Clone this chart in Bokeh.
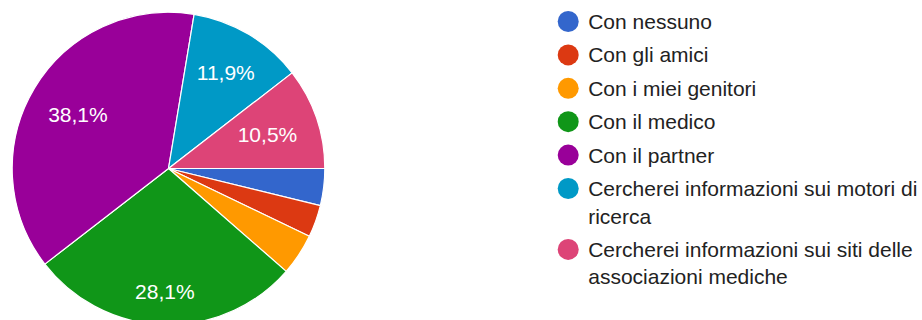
import math
import textwrap
import numpy as np
from bokeh.plotting import figure
from bokeh.models import Range1d, ColumnDataSource
from bokeh.embed import file_html
from bokeh.resources import INLINE
from bokeh.core.properties import value

# ---- data ----
categories = [
    "Con nessuno",
    "Con gli amici",
    "Con i miei genitori",
    "Con il medico",
    "Con il partner",
    "Cercherei informazioni sui motori di ricerca",
    "Cercherei informazioni sui siti delle associazioni mediche",
]
counts = [8, 7, 9, 59, 80, 25, 22]
colors = ["#3366cc", "#dc3912", "#ff9900", "#109618", "#990099", "#0099c6", "#dd4477"]

# ---- layout ----
W, H = 922, 320
CX, CY, R = 168, 152, 156.3
FONT = "Liberation Sans"
LABEL_PX = 21
LEGEND_PX = 21

p = figure(width=W, height=H, output_backend="svg", toolbar_location=None,
           x_range=Range1d(0, W), y_range=Range1d(0, H), min_border=0,
           x_axis_location=None, y_axis_location=None)
p.xgrid.visible = False
p.ygrid.visible = False
p.outline_line_color = None
p.background_fill_color = "white"
p.border_fill_color = "white"

vals = np.array(counts, dtype=float)
frac = vals / vals.sum()
cum = np.concatenate([[0.0], np.cumsum(frac)])
start = -2 * np.pi * cum[:-1]
end = -2 * np.pi * cum[1:]

src = ColumnDataSource(dict(start=start, end=end, color=colors))
p.wedge(x=CX, y=CY, radius=R, start_angle="start", end_angle="end",
        direction="clock", fill_color="color", line_color="white",
        line_width=1.2, source=src)

# ---- slice labels ----
def text_width(s, px):
    w = 0.0
    for ch in s:
        if ch.isdigit():
            w += 0.556
        elif ch == ",":
            w += 0.278
        elif ch == "%":
            w += 0.889
        else:
            w += 0.5
    return w * px

lx, ly, lt = [], [], []
T = 0.865 * R
for f, a0, a1 in zip(frac, start, end):
    pct = f * 100
    if pct < 5:
        continue
    txt = f"{pct:.1f}".replace(".", ",") + "%"
    mid = (a0 + a1) / 2
    c, s = math.cos(mid), math.sin(mid)
    a = math.copysign(text_width(txt, LABEL_PX) / 2, c)
    b = math.copysign(0.716 * LABEL_PX / 2, s)
    B = c * a + s * b
    r = -B + math.sqrt(B * B - (a * a + b * b - T * T))
    lx.append(CX + r * c)
    ly.append(CY + r * s)
    lt.append(txt)

p.text(x=lx, y=ly, text=lt, text_align="center", text_baseline="middle",
       text_font=value(FONT), text_font_size=f"{LABEL_PX}px", text_color="white")

# ---- legend ----
LEG_X = 567.7
TXT_X = 587.7
y0 = 299
STEP = 33.4
LINE = 27.5
mx, my, tx, ty, tt = [], [], [], [], []
y = y0
for name in categories:
    lines = textwrap.wrap(name, 37)
    mx.append(LEG_X)
    my.append(y)
    for k, ln in enumerate(lines):
        tx.append(TXT_X)
        ty.append(y - k * LINE)
        tt.append(ln)
    y -= (len(lines) - 1) * LINE + STEP

p.scatter(x=mx, y=my, size=21, marker="circle", fill_color=colors, line_color=None)
p.text(x=tx, y=ty, text=tt, text_align="left", text_baseline="middle",
       text_font=value(FONT), text_font_size=f"{LEGEND_PX}px", text_color="#222222")

open("out.html", "w").write(file_html(p, INLINE))
